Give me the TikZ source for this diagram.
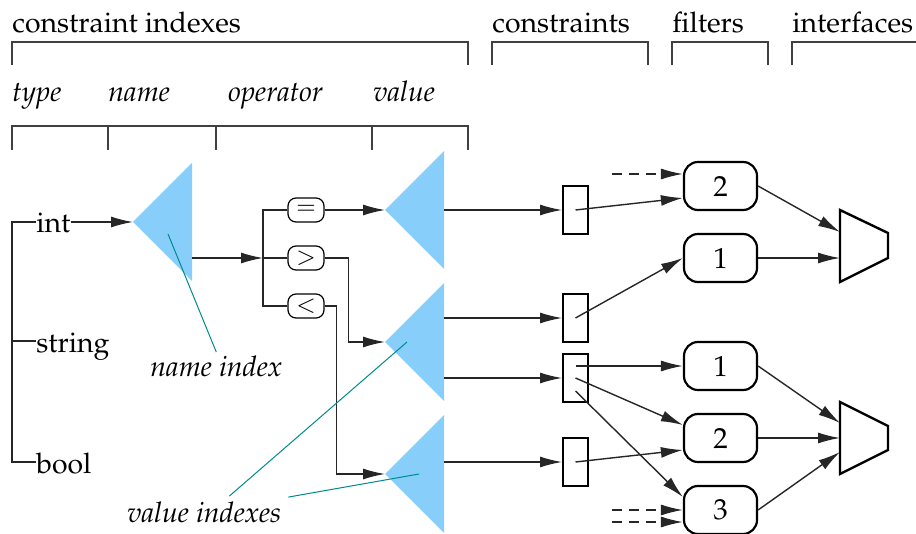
\documentclass[tikz,border=0pt]{standalone}
\usepackage[T1]{fontenc}
\usepackage{mathpazo}
\usetikzlibrary{arrows.meta,positioning,calc}
\definecolor{skyfill}{HTML}{87CEFA}
\definecolor{callout}{HTML}{008B8B}
\tikzset{
  wire/.style={line width=0.7pt, draw=black!85},
  arr/.style={wire, -{Latex[length=11pt,width=5.5pt]}},
  ext/.style={arr, dash pattern=on 5pt off 3.5pt},
  brace/.style={line width=0.7pt, draw=black!75},
  lbl/.style={anchor=base west, inner sep=0pt, font=\fontsize{14.2}{16}\selectfont},
  col/.style={lbl, font=\fontsize{14.2}{16}\selectfont\itshape},
  typ/.style={anchor=west, inner sep=0pt, text height=11pt, text depth=0pt,
              font=\fontsize{14.2}{16}\selectfont},
  opbox/.style={draw, rounded corners=4pt, line width=0.6pt, minimum width=18pt,
                minimum height=12pt, inner sep=0pt, font=\fontsize{12}{12}\selectfont},
  cbox/.style={draw, line width=1pt, minimum width=12.5pt, minimum height=24pt, inner sep=0pt},
  filt/.style={draw, rounded corners=7pt, line width=1.1pt, minimum width=36.5pt,
               minimum height=24pt, inner sep=0pt, font=\fontsize{14.5}{16}\selectfont},
  iface/.style={line width=1.2pt, line join=miter},
  note/.style={draw=callout, line width=0.5pt},
}
% index triangle: name, tip x, tip y
\newcommand\idxtri[3]{%
  \fill[skyfill] (#2,#3) -- ++(59,-59) -- ++(0,118) -- cycle;
  \coordinate (#1) at (#2,#3);}

\begin{document}
\begin{tikzpicture}[x=0.5pt,y=-0.5pt]
 \useasboundingbox (0,0) rectangle (916,534);

 % headings and brackets
 \node[lbl] (hidx)   at (12,33)  {constraint indexes};
 \node[lbl] (hcons)  at (492,33) {constraints};
 \node[lbl] (hfilt)  at (672,33) {filters};
 \node[lbl] (hiface) at (792,33) {interfaces};
 \draw[brace] (12,65) |- (468,42) -- (468,65);
 \draw[brace] (492,65) |- (648,42) -- (648,65);
 \draw[brace] (672,65) |- (768,42) -- (768,65);
 \draw[brace] (792,65) |- (916,42);

 \node[col] (ctype)  at (12,102)  {type};
 \node[col] (cname)  at (108,102) {name};
 \node[col] (cop)    at (228,102) {operator};
 \node[col] (cval)   at (373,102) {value};
 \draw[brace] (12,150) |- (468,126) -- (468,150);
 \foreach \x in {108,216,372}
   \draw[brace] (\x,126) -- (\x,150);

 % index trees
 \idxtri{ntri}{133}{222}
 \idxtri{vtri1}{385}{210}
 \idxtri{vtri2}{385}{342}
 \idxtri{vtri3}{385}{474}
 \coordinate (nout)   at (192,258);
 \coordinate (vout1)  at (444,210);
 \coordinate (vout2a) at (444,318);
 \coordinate (vout2b) at (444,378);
 \coordinate (vout3)  at (444,462);

 % types
 \node[typ] (int)    at (36,222) {int};
 \node[typ] (string) at (36,341) {string};
 \node[typ] (bool)   at (36,462) {bool};
 \coordinate (trunk) at (12,222);
 \draw[wire] (int.west) -- (trunk) |- (bool.west);
 \draw[wire] (string.west) -- (string.west -| trunk);
 \draw[arr] (int.east) -- (ntri);

 % operators
 \coordinate (bus) at (263,258);
 \node[opbox] (eq) at (306,210) {$=$};
 \node[opbox] (gt) at (306,258) {$>$};
 \node[opbox] (lt) at (306,306) {$<$};
 \draw[arr] (nout) -- (bus);
 \draw[wire] (eq.west) -| (bus) |- (lt.west);
 \draw[wire] (bus) -- (gt.west);
 \draw[arr] (eq.east) -- (vtri1);
 \draw[arr] (gt.east) -- ++(24,0) |- (vtri2);
 \draw[arr] (lt.east) -- ++(12,0) |- (vtri3);

 % constraints
 \node[cbox] (c1) at (575.5,210) {};
 \node[cbox] (c2) at (575.5,318) {};
 \node[cbox] (c3) at (575.5,378) {};
 \node[cbox] (c4) at (575.5,462) {};
 \draw[arr] (vout1)  -- (c1.west);
 \draw[arr] (vout2a) -- (c2.west);
 \draw[arr] (vout2b) -- (c3.west);
 \draw[arr] (vout3)  -- (c4.west);

 % filters
 \node[filt] (f2a) at (720.5,186) {2};
 \node[filt] (f1a) at (720.5,258) {1};
 \node[filt] (f1b) at (720.5,366) {1};
 \node[filt] (f2b) at (720.5,438) {2};
 \node[filt] (f3)  at (720.5,510) {3};
 \coordinate (ext1) at (612,174);
 \coordinate (ext2) at (612,510);
 \coordinate (ext3) at (612,522);
 \draw[ext] (ext1) -- ([yshift=6pt]f2a.west);
 \draw[ext] (ext2) -- (f3.west);
 \draw[ext] (ext3) -- ([yshift=-6pt]f3.west);
 \draw[arr] (c1.center) -- ([yshift=-6pt]f2a.west);
 \draw[arr] (c2.center) -- (f1a.west);
 \draw[arr] ([yshift=6pt]c3.center) -- (f1b.west);
 \draw[arr] (c3.center) -- ([yshift=6.5pt]f2b.west);
 \draw[arr] ([yshift=-6.5pt]c3.center) -- ([yshift=6.5pt]f3.west);
 \draw[arr] (c4.center) -- ([yshift=-6pt]f2b.west);

 % interfaces
 \draw[iface] (840,210) -- (888,233) -- (888,258) -- (840,282) -- cycle;
 \draw[iface] (840,402) -- (888,426) -- (888,450) -- (840,474) -- cycle;
 \coordinate (i1a) at (840,232);
 \coordinate (i1b) at (840,258);
 \coordinate (i2a) at (840,423);
 \coordinate (i2b) at (840,438);
 \coordinate (i2c) at (840,452);
 \draw[arr] (f2a.east) -- (i1a);
 \draw[arr] (f1a.east) -- (i1b);
 \draw[arr] (f1b.east) -- (i2a);
 \draw[arr] (f2b.east) -- (i2b);
 \draw[arr] (f3.east)  -- (i2c);

 % callouts
 \node[col] (nnote) at (150,377) {name index};
 \node[col] (vnote) at (127,522) {value indexes};
 \draw[note] ($(nnote.north)+(0,-4)$) -- ($(ntri)+(35,12)$);
 \draw[note] ($(vnote.north)+(25,-5)$) -- ($(vtri2)+(22,0)$);
 \draw[note] ($(vnote.north)+(84,-4)$) -- ($(vtri3)+(34,0)$);
\end{tikzpicture}
\end{document}
